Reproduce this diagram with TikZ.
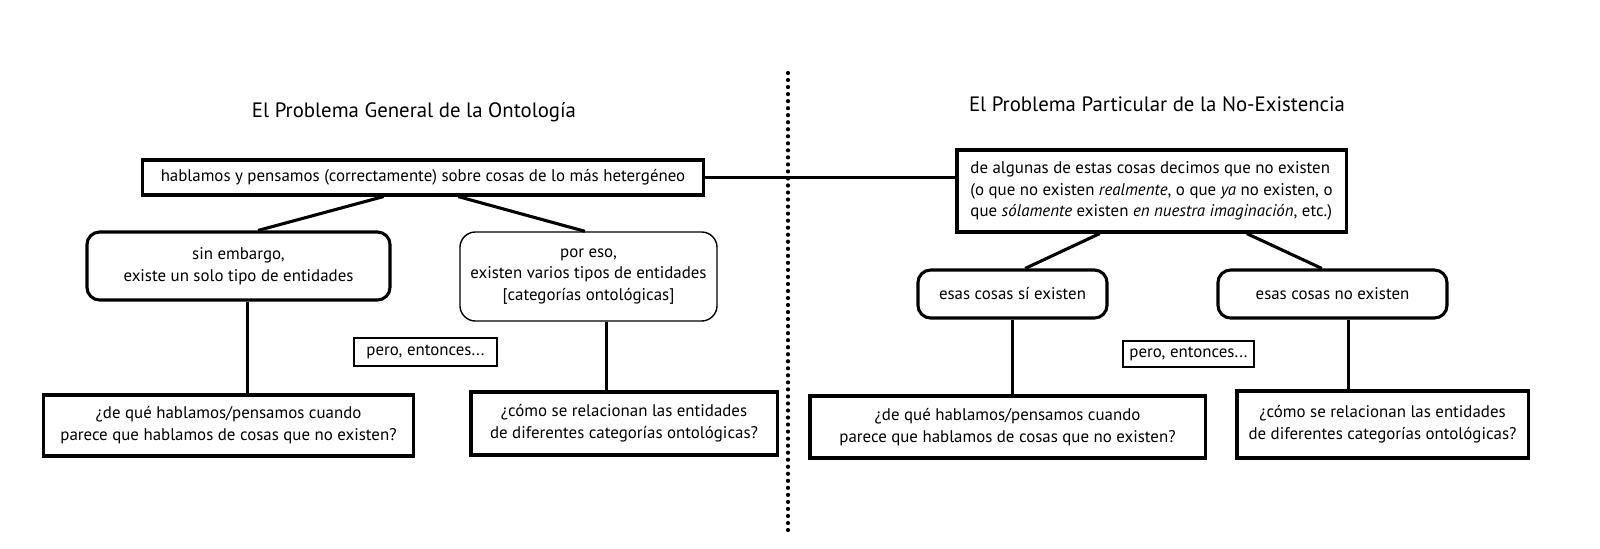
\documentclass[tikz,border=0pt]{standalone}
\usepackage{fontspec}
\setmainfont{PT Sans}
\usetikzlibrary{calc}
\begin{document}
\begin{tikzpicture}[x=0.025cm,y=-0.025cm,
    every node/.style={font=\fontsize{12}{15.5}\selectfont, align=center, inner sep=2pt},
    sqbox/.style={draw, line width=2.2pt},
    rdbox/.style={draw, line width=2.2pt, rounded corners=9pt},
    thinbox/.style={draw, line width=1pt, rounded corners=11pt},
    smallbox/.style={draw, line width=1.8pt},
    heading/.style={font=\fontsize{14.8}{18}\selectfont}]
  \useasboundingbox (0,0) rectangle (1600,548);
  \draw[line width=3pt, line cap=round, dash pattern=on 0pt off 5pt] (788,73) -- (788,535);
  \draw
    (414,112) node[heading] (t1){El Problema General de la Ontología}
    (1157,104) node[heading] (t2){El Problema Particular de la No-Existencia}
    (423,177.5) node[sqbox, minimum width=14cm, minimum height=0.875cm] (A){hablamos y pensamos (correctamente) sobre cosas de lo más hetergéneo}
    (1151.5,191) node[sqbox, minimum width=9.725cm, minimum height=2.05cm, align=left] (B){de algunas de estas cosas decimos que no existen\\(o que no existen \textit{realmente}, o que \textit{ya} no existen, o\\que \textit{sólamente} existen \textit{en nuestra imaginación}, etc.)}
    (238.5,266) node[rdbox, minimum width=7.575cm, minimum height=1.7cm] (C){sin embargo,\\existe un solo tipo de entidades}
    (588.5,276.5) node[thinbox, minimum width=6.425cm, minimum height=2.225cm] (D){por eso,\\existen varios tipos de entidades\\{[}categorías ontológicas{]}}
    (425.5,352) node[smallbox, minimum width=3.575cm, minimum height=0.7cm] (p1){pero, entonces...}
    (228.5,425.5) node[sqbox, minimum width=9.225cm, minimum height=1.525cm] (E){¿de qué hablamos/pensamos cuando\\parece que hablamos de cosas que no existen?}
    (624,423.5) node[sqbox, minimum width=7.65cm, minimum height=1.575cm] (F){¿cómo se relacionan las entidades\\de diferentes categorías ontológicas?}
    (1012.5,294) node[rdbox, minimum width=4.725cm, minimum height=1.2cm] (G){esas cosas sí existen}
    (1332.5,294) node[rdbox, minimum width=5.725cm, minimum height=1.2cm] (H){esas cosas no existen}
    (1188.5,354) node[smallbox, minimum width=3.275cm, minimum height=0.65cm] (p2){pero, entonces...}
    (1007.5,427) node[sqbox, minimum width=9.875cm, minimum height=1.55cm] (I){¿de qué hablamos/pensamos cuando\\parece que hablamos de cosas que no existen?}
    (1382.5,424.5) node[sqbox, minimum width=7.275cm, minimum height=1.675cm] (J){¿cómo se relacionan las entidades\\de diferentes categorías ontológicas?};
  \begin{scope}[line width=2.2pt]
    \draw (A.east) to (A.east -| B.west);
    \draw ($(A.south west)!0.43!(A.south east)$) to ($(C.north west)!0.564!(C.north east)$);
    \draw ($(A.south west)!0.5625!(A.south east)$) to ($(D.north west)!0.486!(D.north east)$);
    \draw ($(C.south west)!0.53!(C.south east)$) coordinate (c1) to (c1 |- E.north);
    \draw ($(D.south west)!0.568!(D.south east)$) coordinate (d1) to (d1 |- F.north);
    \draw ($(B.south west)!0.368!(B.south east)$) to ($(G.north west)!0.566!(G.north east)$);
    \draw ($(B.south west)!0.743!(B.south east)$) to ($(H.north west)!0.454!(H.north east)$);
    \draw (G.south) to (G.south |- I.north);
    \draw ($(H.south west)!0.568!(H.south east)$) coordinate (h1) to (h1 |- J.north);
  \end{scope}
\end{tikzpicture}
\end{document}
